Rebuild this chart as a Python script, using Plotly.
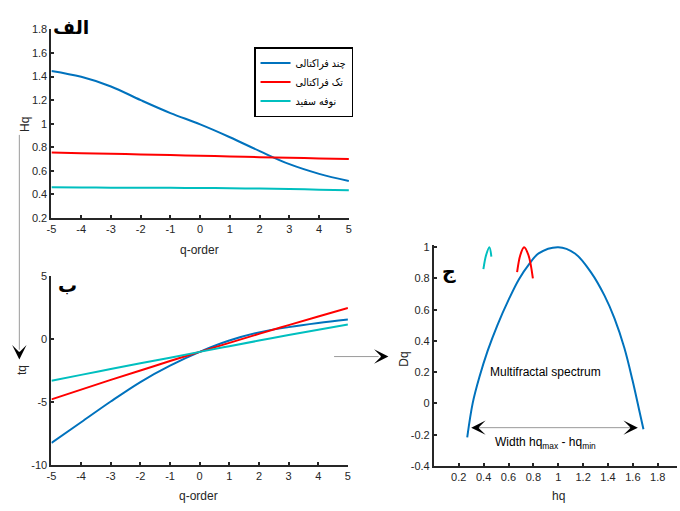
import plotly.graph_objects as go

W, H = 680, 511

# ---------------- data ----------------
q_order = [-5, -4, -3, -2, -1, 0, 1, 2, 3, 4, 5]

hq_multi = [1.448, 1.398, 1.316, 1.200, 1.090, 0.994, 0.885, 0.767, 0.656, 0.574, 0.513]
hq_mono = [0.755, 0.749, 0.744, 0.739, 0.733, 0.728, 0.722, 0.716, 0.711, 0.705, 0.700]
hq_noise = [0.460, 0.458, 0.457, 0.456, 0.455, 0.454, 0.452, 0.449, 0.445, 0.440, 0.435]

tq_multi = [-8.25, -6.6, -4.95, -3.4, -2.1, -1.0, -0.1, 0.55, 0.97, 1.3, 1.57]
tq_mono = [-4.78, -4.0, -3.23, -2.48, -1.73, -1.0, -0.28, 0.43, 1.13, 1.82, 2.5]
tq_noise = [-3.3, -2.83, -2.37, -1.91, -1.46, -1.0, -0.55, -0.1, 0.34, 0.76, 1.18]

spec_multi_h = [0.268, 0.312, 0.366, 0.432, 0.511, 0.604, 0.683, 0.763, 0.842, 1.0,
                1.134, 1.266, 1.372, 1.452, 1.531, 1.597, 1.650, 1.685]
spec_multi_d = [-0.217, 0.002, 0.169, 0.336, 0.502, 0.669, 0.794, 0.888, 0.96, 1.0,
                0.96, 0.836, 0.69, 0.544, 0.356, 0.148, -0.04, -0.165]
spec_mono_h = [0.669, 0.695, 0.725, 0.76, 0.796]
spec_mono_d = [0.84, 0.95, 1.0, 0.95, 0.80]
spec_noise_h = [0.398, 0.42, 0.446, 0.462]
spec_noise_d = [0.86, 0.95, 1.0, 0.94]

series_names = ["چند فراکتالی", "تک فراکتالی", "نوفه سفید"]
series_colors = ["#0072BD", "#FF0000", "#00BFBF"]

q_ticks = [-5, -4, -3, -2, -1, 0, 1, 2, 3, 4, 5]
q_ticktext = ["-5", "-4", "-3", "-2", "-1", "0", "1", "2", "3", "4", "5"]
hq_ticks = [0.2, 0.4, 0.6, 0.8, 1.0, 1.2, 1.4, 1.6, 1.8]
hq_ticktext = ["0.2", "0.4", "0.6", "0.8", "1", "1.2", "1.4", "1.6", "1.8"]
tq_ticks = [-10, -5, 0, 5]
tq_ticktext = ["-10", "-5", "0", "5"]
h_ticks = [0.2, 0.4, 0.6, 0.8, 1.0, 1.2, 1.4, 1.6, 1.8]
h_ticktext = ["0.2", "0.4", "0.6", "0.8", "1", "1.2", "1.4", "1.6", "1.8"]
d_ticks = [-0.4, -0.2, 0, 0.2, 0.4, 0.6, 0.8, 1.0]
d_ticktext = ["-0.4", "-0.2", "0", "0.2", "0.4", "0.6", "0.8", "1"]


def px(x):
    return x / W


def py(y):
    return 1 - y / H


NARROW = "Liberation Sans Narrow, Arial Narrow, Liberation Sans, sans-serif"
TICKFONT = dict(family=NARROW, size=11, color="#262626")
LABELFONT = dict(family=NARROW, size=12, color="#262626")
ARFONT = dict(family="DejaVu Sans", size=19, color="black", weight="bold")
AXCOL = "#262626"

fig = go.Figure()

top_series = [hq_multi, hq_mono, hq_noise]
bot_series = [tq_multi, tq_mono, tq_noise]
spec_series = [(spec_multi_h, spec_multi_d), (spec_mono_h, spec_mono_d), (spec_noise_h, spec_noise_d)]

for name, col, ys in zip(series_names, series_colors, top_series):
    fig.add_trace(go.Scatter(x=q_order, y=ys, mode="lines", name=name,
                             line=dict(color=col, width=2, shape="spline"),
                             xaxis="x", yaxis="y", showlegend=True))
for name, col, ys in zip(series_names, series_colors, bot_series):
    fig.add_trace(go.Scatter(x=q_order, y=ys, mode="lines", name=name,
                             line=dict(color=col, width=2, shape="spline"),
                             xaxis="x2", yaxis="y2", showlegend=False))
for name, col, (hs, ds) in zip(series_names, series_colors, spec_series):
    fig.add_trace(go.Scatter(x=hs, y=ds, mode="lines", name=name,
                             line=dict(color=col, width=2, shape="spline"),
                             xaxis="x3", yaxis="y3", showlegend=False))

axis_common = dict(showline=True, linecolor=AXCOL, linewidth=2, ticks="inside",
                   ticklen=3, tickwidth=1.5, tickcolor=AXCOL, showgrid=False,
                   zeroline=False, tickfont=TICKFONT, mirror=False)

fig.update_layout(
    width=W, height=H, autosize=False,
    margin=dict(l=0, r=0, t=0, b=0),
    paper_bgcolor="white", plot_bgcolor="white",
    xaxis=dict(domain=[px(47), px(348)], range=[-5, 5], tickvals=q_ticks, ticktext=q_ticktext,
               anchor="y", **axis_common),
    yaxis=dict(domain=[py(217), py(24)], range=[0.2, 1.8], tickvals=hq_ticks, ticktext=hq_ticktext,
               anchor="x", **axis_common),
    xaxis2=dict(domain=[px(47), px(347)], range=[-5, 5], tickvals=q_ticks, ticktext=q_ticktext,
                anchor="y2", **axis_common),
    yaxis2=dict(domain=[py(470), py(277)], range=[-10, 5], tickvals=tq_ticks, ticktext=tq_ticktext,
                anchor="x2", **axis_common),
    xaxis3=dict(domain=[px(434), 1.0], range=[0, (680 - 434) / 125.85], tickvals=h_ticks, ticktext=h_ticktext,
                anchor="y3", **axis_common),
    yaxis3=dict(domain=[py(471), py(245)], range=[-0.4, 1.0125], tickvals=d_ticks, ticktext=d_ticktext,
                anchor="x3", **axis_common),
    legend=dict(x=px(252), y=py(42), xanchor="left", yanchor="top",
                bgcolor="white", bordercolor="black", borderwidth=1.5,
                font=dict(family="DejaVu Sans Condensed, DejaVu Sans", size=10.5, color="black"),
                itemwidth=30, tracegroupgap=0),
    showlegend=True,
)

annotations = [
    # axis titles
    dict(text="Hq", x=px(20), y=py(121), textangle=-90, font=LABELFONT),
    dict(text="q-order", x=px(197), y=py(250), font=LABELFONT),
    dict(text="tq", x=px(17), y=py(373), textangle=-90, font=LABELFONT),
    dict(text="q-order", x=px(196), y=py(502), font=LABELFONT),
    dict(text="Dq", x=px(404), y=py(362), textangle=-90, font=LABELFONT),
    dict(text="hq", x=px(560), y=py(502), font=LABELFONT),
    # panel letters
    dict(text="الف", x=px(67), y=py(22), font=ARFONT),
    dict(text="ب", x=px(63), y=py(286), font=ARFONT),
    dict(text="ج", x=px(449), y=py(272), font=ARFONT),
    # texts in spectrum panel
    dict(text="Multifractal spectrum", x=0.9, y=0.2, xref="x3", yref="y3",
         font=dict(family=NARROW, size=12, color="black")),
    dict(text="Width hq<sub>max</sub> - hq<sub>min</sub>", x=0.9, y=-0.25, xref="x3", yref="y3",
         font=dict(family=NARROW, size=12, color="black")),
]
for a in annotations:
    a.setdefault("xref", "paper")
    a.setdefault("yref", "paper")
    a.setdefault("showarrow", False)
    a.setdefault("xanchor", "center")
    a.setdefault("yanchor", "middle")
    fig.add_annotation(**a)

# arrows: grey shafts + black heads
GREY = "#9a9a9a"
fig.add_shape(type="line", xref="paper", yref="paper", x0=px(14.5), y0=py(132), x1=px(14.5), y1=py(352),
              line=dict(color=GREY, width=1))
fig.add_shape(type="line", xref="paper", yref="paper", x0=px(333), y0=py(359), x1=px(378), y1=py(359),
              line=dict(color=GREY, width=1))
fig.add_shape(type="line", xref="x3", yref="y3", x0=0.33, y0=-0.155, x1=1.61, y1=-0.155,
              line=dict(color=GREY, width=1))

heads = [
    dict(x=px(14.5), y=py(362), xref="paper", yref="paper", ax=0, ay=-8),
    dict(x=px(388), y=py(359), xref="paper", yref="paper", ax=-8, ay=0),
    dict(x=0.30, y=-0.155, xref="x3", yref="y3", ax=8, ay=0),
    dict(x=1.64, y=-0.155, xref="x3", yref="y3", ax=-8, ay=0),
]
for h in heads:
    fig.add_annotation(text="", showarrow=True, arrowhead=3, arrowsize=1.6, arrowwidth=1.5,
                       arrowcolor="black", **h)

fig.write_html("out.html", config={"displayModeBar": False},
               post_script="document.body.style.margin='0';")
